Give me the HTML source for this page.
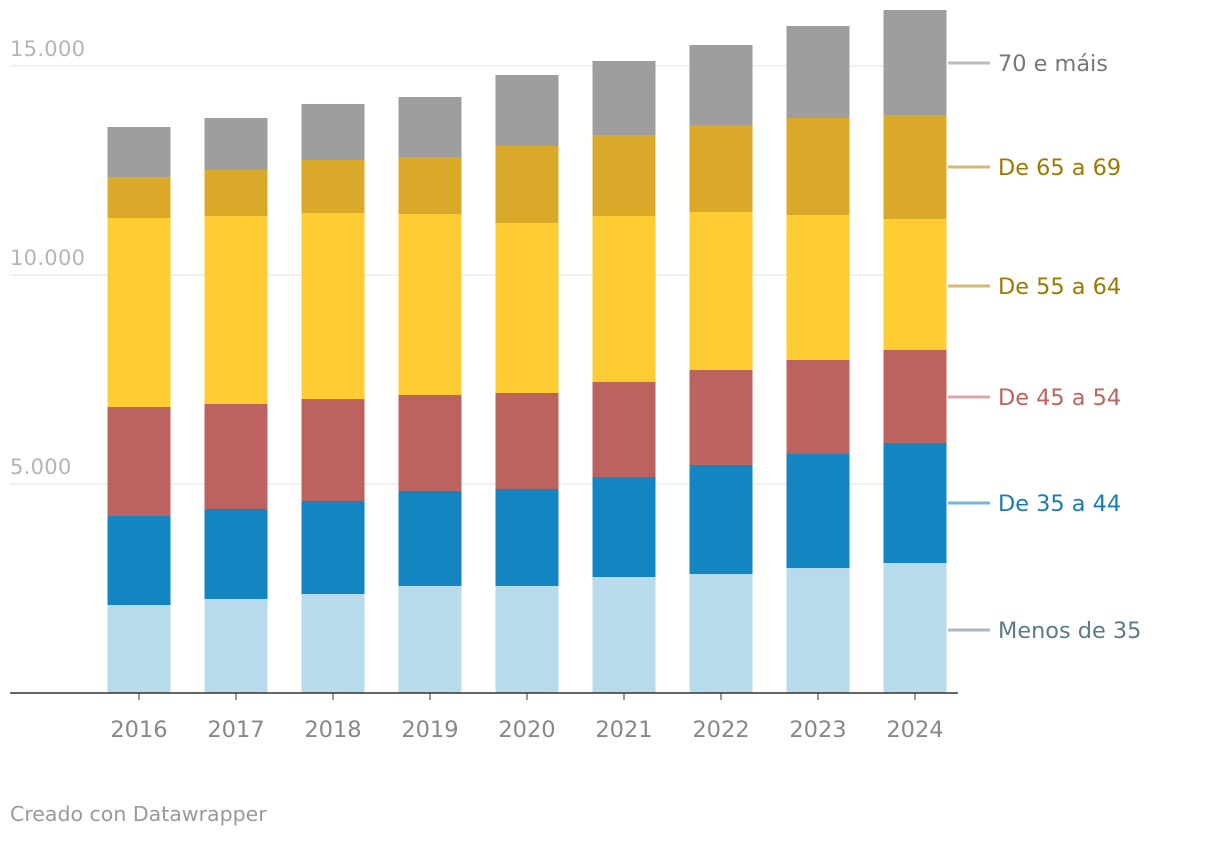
<!DOCTYPE html>
<html><head><meta charset="utf-8"><style>
body{margin:0;background:#fff;width:1220px;height:838px;overflow:hidden;font-family:"DejaVu Sans",sans-serif}
</style></head><body>
<svg id="chart" width="1220" height="838" xmlns="http://www.w3.org/2000/svg" font-family="DejaVu Sans, sans-serif"></svg>
<script>
const categories=["2016","2017","2018","2019","2020","2021","2022","2023","2024"];
const seriesNames=["Menos de 35","De 35 a 44","De 45 a 54","De 55 a 64","De 65 a 69","70 e máis"];
const menos35=[2105,2249,2368,2560,2560,2775,2847,2990,3110];
const de35a44=[2129,2153,2225,2273,2320,2392,2608,2728,2871];
const de45a54=[2608,2512,2440,2296,2297,2273,2272,2249,2225];
const de55a64=[4522,4497,4450,4330,4067,3971,3780,3468,3134];
const de65a69=[980,1101,1268,1364,1842,1938,2082,2321,2488];
const mais70=[1197,1244,1340,1435,1699,1771,1913,2201,2512];
const yTicks=[5000,10000,15000];
const yTickLabels=["5.000","10.000","15.000"];
const series=[menos35,de35a44,de45a54,de55a64,de65a69,mais70];
const colors=["#b7dbea","#1385c0","#bc6360","#ffcc33","#daa929","#9e9e9e"];
const lineColors=["#a9bac3","#78b3d8","#dba7a6","#d1b978","#d1b978","#bdbdbd"];
const labelColors=["#5d7a88","#1a7ab8","#bc6360","#9a7a00","#9a7a00","#777777"];
const svg=document.getElementById('chart');
const NS="http://www.w3.org/2000/svg";
function y(v){return 693-v*0.0418;}
function xc(i){return 139+i*97;}
function mk(t,a,p){const e=document.createElementNS(NS,t);for(const k in a)e.setAttribute(k,a[k]);(p||svg).appendChild(e);return e;}
yTicks.forEach((t,i)=>{
 const l=mk('line',{x1:10,x2:940,y1:y(t),y2:y(t),stroke:'#e3e3e3','stroke-width':1});
 
 
 const tx=mk('text',{x:10,y:y(t)-10,'font-size':21,fill:'#b5b5b5','letter-spacing':'0.3'});
 tx.textContent=yTickLabels[i];
 
 
});
categories.forEach((c,i)=>{
 let cum=0;
 series.forEach((s,j)=>{
  const r=mk('rect',{x:xc(i)-31.5,width:63,y:y(cum+s[i]),height:y(cum)-y(cum+s[i]),fill:colors[j]});
  
  
  cum+=s[i];
 });
 const tk=mk('line',{x1:xc(i),x2:xc(i),y1:693,y2:700,stroke:'#333'});
 
 
 const t=mk('text',{x:xc(i),y:737,'font-size':22.5,fill:'#888','text-anchor':'middle'});
 t.textContent=c;
 
 
});
const ax=mk('line',{x1:10,x2:958,y1:693,y2:693,stroke:'#333','stroke-width':1.5});


const labelY=[630,503,397,286,167,63];
series.forEach((s,j)=>{
 const ly=labelY[j];
 const l=mk('line',{x1:948,x2:990,y1:ly,y2:ly,stroke:lineColors[j],'stroke-width':3});
 
 
 const t=mk('text',{x:998,y:ly+8,'font-size':22.4,fill:labelColors[j]});
 t.textContent=seriesNames[j];
 
 
});
const f=mk('text',{x:10,y:821,'font-size':20.5,fill:'#999'});
f.textContent="Creado con Datawrapper";


</script>
</body></html>
